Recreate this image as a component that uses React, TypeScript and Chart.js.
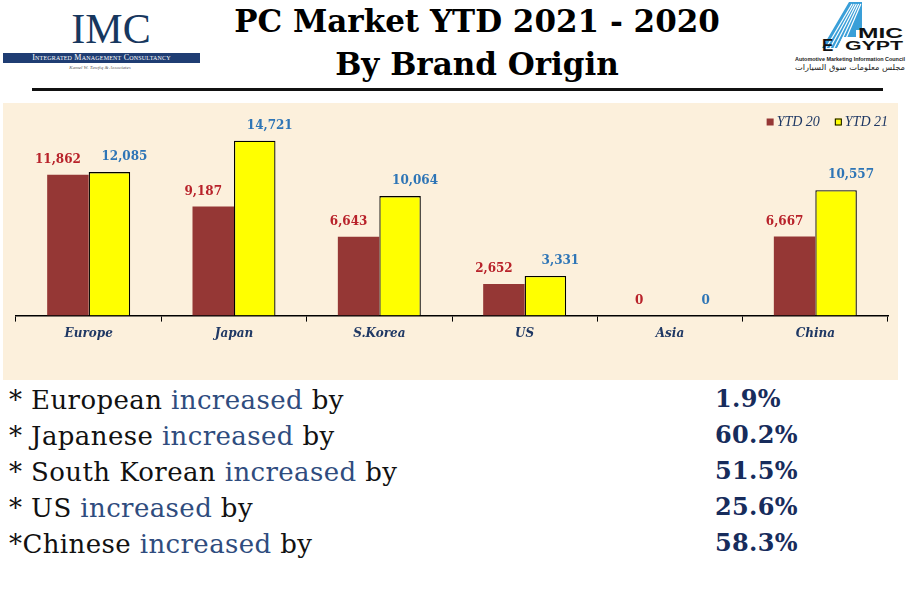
import React, { useEffect, useRef } from "react";
import { Chart, registerables } from "chart.js";

Chart.register(...registerables);

const categories = ["Europe", "Japan", "S.Korea", "US", "Asia", "China"];
const ytd20 = [11862, 9187, 6643, 2652, 0, 6667];
const ytd21 = [12085, 14721, 10064, 3331, 0, 10557];
const seriesLabels = ["YTD 20", "YTD 21"];
const summaryPrefixes = ["* ", "* ", "* ", "* ", "*"];
const summaryNames = ["European", "Japanese", "South Korean", "US", "Chinese"];
const summaryPercents = ["1.9%", "60.2%", "51.5%", "25.6%", "58.3%"];

const BROWN = "#953735";
const YELLOW = "#ffff00";
const LABEL_COLORS = ["#b8222a", "#2e75b6"];
const LABEL_DX = [-10, 15];
const LABEL_DY = -15;

const valueLabelPlugin = {
  id: "valueLabels",
  afterDatasetsDraw(chart: any) {
    const ctx = chart.ctx;
    ctx.save();
    ctx.font = "bold 12px 'DejaVu Serif'";
    ctx.textAlign = "center";
    ctx.textBaseline = "middle";
    chart.data.datasets.forEach((ds: any, i: number) => {
      const meta = chart.getDatasetMeta(i);
      ctx.fillStyle = LABEL_COLORS[i];
      meta.data.forEach((el: any, j: number) => {
        const v = ds.data[j] as number;
        ctx.fillText(v.toLocaleString("en-US"), el.x + LABEL_DX[i], el.y + LABEL_DY);
      });
    });
    ctx.restore();
  },
};

const legendPlugin = {
  id: "cornerLegend",
  afterDraw(chart: any) {
    const ctx = chart.ctx;
    const ds = chart.data.datasets;
    ctx.save();
    ctx.font = "italic 14px 'Liberation Serif'";
    ctx.textBaseline = "middle";
    const y = 19;
    const box = 7;
    const gapBox = 3;
    const gapItem = 15;
    let right = chart.chartArea.right;
    const items: any[] = [];
    for (let i = ds.length - 1; i >= 0; i--) {
      const w = ctx.measureText(ds[i].label).width;
      const textX = right - w;
      const boxX = textX - gapBox - box;
      items.push({ i, textX, boxX });
      right = boxX - gapItem;
    }
    items.forEach(({ i, textX, boxX }) => {
      ctx.fillStyle = ds[i].backgroundColor;
      ctx.fillRect(boxX, y - box / 2, box, box);
      if (ds[i].borderWidth) {
        ctx.strokeStyle = "#000";
        ctx.lineWidth = 1;
        ctx.strokeRect(boxX + 0.5, y - box / 2 + 0.5, box - 1, box - 1);
      }
      ctx.fillStyle = "#1f3864";
      ctx.fillText(ds[i].label, textX, y);
    });
    ctx.restore();
  },
};

function BarChart() {
  const ref = useRef<HTMLCanvasElement | null>(null);
  useEffect(() => {
    if (!ref.current) return;
    const chart = new Chart(ref.current, {
      type: "bar",
      data: {
        labels: categories,
        datasets: [
          {
            label: seriesLabels[0],
            data: ytd20,
            backgroundColor: BROWN,
            borderWidth: 0,
          },
          {
            label: seriesLabels[1],
            data: ytd21,
            backgroundColor: YELLOW,
            borderColor: "#000000",
            borderWidth: 1.3,
          },
        ],
      },
      options: {
        animation: false,
        responsive: false,
        layout: { padding: { left: 13, right: 10, top: 25, bottom: 34 } },
        datasets: { bar: { categoryPercentage: 0.571, barPercentage: 1 } } as any,
        plugins: {
          legend: { display: false },
          tooltip: { enabled: false },
        },
        scales: {
          x: {
            grid: {
              display: true,
              drawOnChartArea: false,
              drawTicks: true,
              tickLength: 6,
              color: "#000",
              lineWidth: 1,
              offset: true,
            },
            border: { display: true, color: "#000", width: 1.5 },
            ticks: {
              color: "#1f3864",
              padding: 5,
              font: { family: "'DejaVu Serif'", size: 12, style: "italic", weight: "bold" },
            },
          },
          y: { display: false, min: 0, max: 15800 },
        },
      },
      plugins: [valueLabelPlugin, legendPlugin],
    });
    return () => chart.destroy();
  }, []);
  return <canvas ref={ref} width={895} height={277} style={{ display: "block" }} />;
}

function AmicLogo() {
  return (
    <svg width={131} height={80} viewBox="780 0 131 80" style={{ position: "absolute", left: 780, top: 0 }}>
      <polygon points="822,48 849,2 862,2 862,30 856,30 856,37 843,37 837,48" fill="#3a9fd8" />
      {[0, 4, 8, 12, 16].map((o) => (
        <line key={o} x1={826 + o} y1={48} x2={852 + o * 0.55} y2={4} stroke="#ffffff" strokeWidth={1.2} />
      ))}
      <text x={858} y={38} fontFamily="'Liberation Sans'" fontWeight="bold" fontSize={14} textLength={45} lengthAdjust="spacingAndGlyphs" fill="#111">MIC</text>
      <text x={822} y={51} fontFamily="'Liberation Sans'" fontWeight="bold" fontSize={17} fill="#111">E</text>
      <text x={845} y={50} fontFamily="'Liberation Sans'" fontWeight="bold" fontSize={12} textLength={58} lengthAdjust="spacingAndGlyphs" fill="#111">GYPT</text>
      <text x={795} y={61} fontFamily="'Liberation Sans'" fontWeight="bold" fontSize={6} textLength={110} lengthAdjust="spacingAndGlyphs" fill="#222">Automotive Marketing Information Council</text>
      <text x={795} y={70} fontFamily="'DejaVu Sans'" fontSize={8} textLength={110} lengthAdjust="spacingAndGlyphs" fill="#222">مجلس معلومات سوق السيارات</text>
    </svg>
  );
}

export default function App() {
  return (
    <div style={{ position: "fixed", left: 0, top: 0, width: 911, height: 616, background: "#ffffff", overflow: "hidden" }}>
      {/* IMC logo */}
      <div style={{ position: "absolute", left: 50, top: 6, width: 122, textAlign: "center", fontFamily: "'Liberation Serif'", fontSize: 42, lineHeight: "46px", color: "#17375e" }}>IMC</div>
      <div style={{ position: "absolute", left: 3, top: 53, width: 197, height: 10, background: "#1f3d73", color: "#fff", fontFamily: "'Liberation Serif'", fontSize: 8, lineHeight: "10px", textAlign: "center", fontVariant: "small-caps", letterSpacing: 0.2, whiteSpace: "nowrap" }}>Integrated Management Consultancy</div>
      <div style={{ position: "absolute", left: 40, top: 65, width: 120, textAlign: "center", fontFamily: "'Liberation Serif'", fontStyle: "italic", fontSize: 5, lineHeight: "6px", color: "#555", whiteSpace: "nowrap" }}>Kamel W. Tawfiq &amp; Associates</div>

      {/* Title */}
      <div style={{ position: "absolute", left: 177, top: 0, width: 600, textAlign: "center", fontFamily: "'DejaVu Serif'", fontWeight: "bold", fontSize: 31, lineHeight: "43px", color: "#000" }}>
        <div>PC Market YTD 2021 - 2020</div>
        <div>By Brand Origin</div>
      </div>

      <AmicLogo />

      {/* header rule */}
      <div style={{ position: "absolute", left: 32, top: 88, width: 851, height: 3, background: "#111" }} />

      {/* chart */}
      <div style={{ position: "absolute", left: 3, top: 103, width: 895, height: 277, background: "#fcf0dc" }}>
        <BarChart />
      </div>

      {/* summary */}
      <div style={{ position: "absolute", left: 9, top: 382, fontFamily: "'DejaVu Serif'", fontSize: 26, lineHeight: "36px", letterSpacing: 0.4, color: "#111", whiteSpace: "pre" }}>
        {summaryNames.map((n, i) => (
          <div key={n}>
            {summaryPrefixes[i]}
            {n} <span style={{ color: "#2f4c7e" }}>increased</span> by
          </div>
        ))}
      </div>
      <div style={{ position: "absolute", left: 715, top: 381, fontFamily: "'DejaVu Serif'", fontWeight: "bold", fontSize: 24, lineHeight: "36px", letterSpacing: 0.3, color: "#172c5c" }}>
        {summaryPercents.map((p) => (
          <div key={p}>{p}</div>
        ))}
      </div>
    </div>
  );
}
